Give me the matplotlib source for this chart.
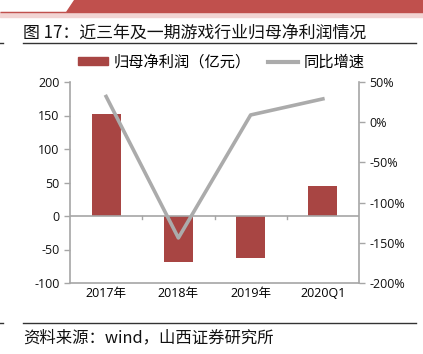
import matplotlib.pyplot as plt
from matplotlib.patches import Polygon, Rectangle
from matplotlib.lines import Line2D

plt.rcParams['font.family'] = ['Noto Sans CJK SC', 'DejaVu Sans']

categories = ['2017年', '2018年', '2019年', '2020Q1']
profit = [152, -68, -62, 45]
growth = [32, -144, 9, 29]

left_ticks = [-100, -50, 0, 50, 100, 150, 200]
right_ticks = [-200, -150, -100, -50, 0, 50]

W, H = 423, 354
fig = plt.figure(figsize=(W / 100, H / 100), dpi=100)

# header band
fig.patches.append(Rectangle((0, 1 - 17 / H), 1, 5 / H, transform=fig.transFigure,
                             color='#F2D4D3', zorder=0))
fig.patches.append(Polygon([(74 / W, 1), (1, 1), (1, 1 - 12 / H), (66 / W, 1 - 12 / H)],
                           closed=True, transform=fig.transFigure, color='#C0504D', zorder=1))
fig.patches.append(Rectangle((0, 1 - 12 / H), 66 / W, 0.0001, transform=fig.transFigure,
                             color='#C0504D'))

fig.text(23 / W, 1 - 33 / H, '图 17：近三年及一期游戏行业归母净利润情况', fontsize=12.2,
         va='center', ha='left', color='#111111')
fig.add_artist(Line2D([23 / W, 416 / W], [1 - 43 / H] * 2, color='#333333', lw=1))
fig.add_artist(Line2D([0, 3 / W], [1 - 43 / H] * 2, color='#333333', lw=1))

fig.add_artist(Line2D([23 / W, 416 / W], [1 - 323 / H] * 2, color='#333333', lw=1))
fig.add_artist(Line2D([0, 3 / W], [1 - 323 / H] * 2, color='#333333', lw=1))
fig.text(23 / W, 1 - 338 / H, '资料来源：wind，山西证券研究所', fontsize=11.8,
         va='center', ha='left', color='#111111')

ax = fig.add_axes([70 / W, 1 - 283 / H, 289 / W, 201 / H])
x = list(range(len(categories)))
ax.bar(x, profit, width=0.4, color='#A84543', zorder=2)
ax.set_xlim(-0.5, len(categories) - 0.5)
ax.set_ylim(-100, 200)
ax.set_yticks(left_ticks)
ax.set_yticklabels([str(v) for v in left_ticks], family=['Open Sans'], fontsize=9)
ax.axhline(0, color='#A6A6A6', lw=1.2, zorder=3)
ax.set_xticks([])
for b in [0.5, 1.5, 2.5]:
    ax.plot([b, b], [0, -4.5], color='#A6A6A6', lw=1, zorder=3, clip_on=False)
for i, c in enumerate(categories):
    ax.text(i, -106, c, ha='center', va='top', fontsize=9, family=['Open Sans', 'Noto Sans CJK SC'])

for s in ['top', 'right']:
    ax.spines[s].set_visible(False)
for s in ['left', 'bottom']:
    ax.spines[s].set_color('#A6A6A6')
    ax.spines[s].set_linewidth(1.2)
ax.tick_params(axis='y', colors='#A6A6A6', labelcolor='#111111', length=4, width=1)

ax2 = ax.twinx()
ax2.plot(x, growth, color='#ABABAB', lw=2.6, zorder=4)
ax2.set_ylim(-200, 50)
ax2.set_yticks(right_ticks)
ax2.set_yticklabels([f'{v}%' for v in right_ticks], family=['Open Sans'], fontsize=9)
for s in ['top', 'left', 'bottom']:
    ax2.spines[s].set_visible(False)
ax2.spines['right'].set_color('#A6A6A6')
ax2.spines['right'].set_linewidth(1.2)
ax2.tick_params(axis='y', colors='#A6A6A6', labelcolor='#111111', length=4, width=1)

handles = [Rectangle((0, 0), 1, 1, color='#A84543'),
           Line2D([0], [0], color='#ABABAB', lw=3)]
fig.legend(handles, ['归母净利润（亿元）', '同比增速'], loc='center',
           bbox_to_anchor=(221 / W, 1 - 62 / H), ncol=2, frameon=False, fontsize=11,
           handlelength=2.0, handleheight=0.5, columnspacing=1.1, handletextpad=0.35)

fig.savefig('out.png', dpi=100)
